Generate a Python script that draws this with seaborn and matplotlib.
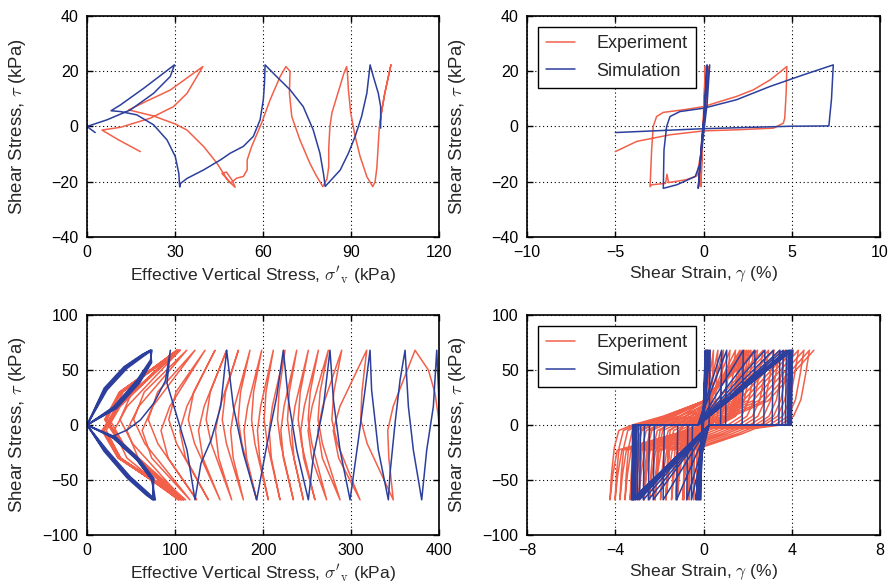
import numpy as np
import pandas as pd
import matplotlib
matplotlib.use("Agg")
import matplotlib.pyplot as plt
import seaborn as sns

# ------------------------------------------------------------------ colours
EXP_COLOR = "#f2604a"
SIM_COLOR = "#2c3f9c"

# ------------------------------------------------------------------ data
# Top-left : effective vertical stress (kPa) vs shear stress (kPa), low CSR test
tl_exp_sv = [99.7, 100.5, 101.5, 103.6, 101.5, 100.2, 99.6, 99.2, 98.8, 98.2, 97.4,
             95.4, 93.1, 91.4, 89.9, 89.1, 88.8, 88.5, 87.5, 85.5, 83.5, 82.8, 82.4,
             82.4, 81.8, 80.4, 78.0, 76.0, 72.6, 69.8, 69.0, 69.2, 67.8, 65.8, 62.4,
             59.5, 56.1, 54.6, 54.6, 53.3, 51.0, 49.0, 46.0, 47.5, 49.5, 50.5, 48.0,
             44.3, 39.8, 34.1, 30.1, 22.7, 14.2, 20.0, 28.4, 34.0, 39.5, 34.1, 29.5,
             21.6, 11.4, 5.1, 11.0, 18.2]
tl_exp_tau = [-0.5, 6, 12, 22.3, 12, 4, -1, -8, -15, -20, -21.8,
              -18.2, -10.9, -3.6, 4.9, 13.3, 19, 21.7, 19, 12, 5, 0, -8,
              -14.6, -19, -21.8, -17.5, -13.4, -4.9, 3.6, 12.1, 20, 21.7, 18, 9.6,
              1.2, -7.3, -12.1, -15.7, -18.1, -18.7, -20.5, -17, -16.5, -19.5, -22, -19.5,
              -13.3, -7.3, -1.3, 0.9, 3.8, 6.0, 9, 13.2, 17.5, 21.7, 12, 7.2,
              3.0, -0.3, -1.3, -5, -9.1]
tl_sim_sv = [100.1, 100.1, 99.3, 97.6, 96.5, 95.4, 93.6, 91.4, 89.1, 86.3, 81.2,
             80.6, 79.4, 77.1, 73.7, 69.2, 64.6, 60.7, 60.5, 60.1, 59.0, 56.7, 53.3,
             48.8, 45.5, 39.8, 34.1, 31.8, 31.6, 31.3, 30.1, 27.3, 22.7, 17.0, 11.4,
             8.2, 11.4, 19.3, 29.8, 28.4, 22.7, 14.8, 6.8, 0.0, 2.8]
tl_sim_tau = [-0.6, 7.2, 12, 18.1, 22.3, 12.1, 3.6, -3.6, -9.7, -15.8, -21.7,
              -17, -9.7, -1.2, 7.2, 13.3, 18.1, 22.3, 15.6, 9.6, 2.4, -3.6, -7.2,
              -9.7, -12.1, -15.7, -18.8, -20.7, -21.9, -17, -10.9, -4.9, 0.6, 4.2, 5.4,
              5.7, 7.8, 13.8, 22.3, 18.1, 12, 6, 2.4, 0, -2.2]

# Top-right : shear strain (%) vs shear stress (kPa), low CSR test
tr_exp_gamma = [0, 0.05, 0.1, 0.0, -0.1, -0.15, -0.05, 0.1, 0.2, 0.05, -0.15, -0.28,
                -0.1, 0.1, 0.3, 0.15, 0.0, -0.1, -0.38, -1.0, -1.98, -2.07, -2.15,
                -2.94, -3.03, -2.94, -2.85, -2.66, -2.28, -0.96, 0.0, 1.88, 2.83,
                3.78, 4.72, 4.68, 4.6, 4.52, 3.96, 1.88, 0.0, -1.89, -3.78, -5.0]
tr_exp_tau = [0, 10, 21.7, 5, -10, -21.8, -5, 10, 21.7, 5, -10, -21.8,
              -5, 10, 21.7, 8, 0, -8, -17.9, -19.3, -20.3, -17.3, -20.6,
              -21.1, -21.8, -8.5, 0, 3.6, 5.1, 6.2, 7.2, 10.9, 13.3,
              16.9, 21.7, 12, 3, 1.2, -0.6, -1.2, -1.6, -3.0, -5.4, -9.1]
tr_sim_gamma = [0, 0.1, 0.2, 0.05, -0.15, -0.3, -0.1, 0.15, 0.35, 0.2, 0.05, -0.1,
                -0.19, -0.47, -1.51, -2.28, -2.24, -2.09, -1.9, -1.34, 0.0, 1.88,
                3.77, 5.66, 7.35, 7.25, 7.1, 5.0, 0.0, -5.0]
tr_sim_tau = [0, 12, 22.3, 5, -10, -22.4, -5, 12, 22.3, 8, 0, -8,
              -13.3, -18.1, -21.1, -22.4, -8.5, 0, 3.6, 5.4, 6.6, 9.7,
              14.5, 18.7, 22.3, 10, 0.2, 0.1, -0.8, -2.2]

# Bottom-left : effective vertical stress vs shear stress, high CSR test
TAU_AMP = 68.0
bl_exp_start_sv = [400.0, 399.2, 395.5, 387.9]
bl_exp_start_tau = [0.0, 7.6, 28.8, 50.0]
# successive stress reversals (peak, trough, peak, ...), sigma'_v in kPa
bl_exp_reversal_sv = [372.7, 348.0, 317.8, 310.2, 289.4, 287.5, 274.2, 272.3, 262.9,
                      259.0, 251.5, 245.8, 238.3, 234.5, 225.0, 219.3, 211.7, 206.0,
                      198.5, 192.8, 185.2, 177.7, 172.0, 164.4, 158.7, 151.1, 145.5,
                      137.9, 134.1, 124.6, 122.7, 117.0, 113.3, 109.5, 105.7, 103.8,
                      101.9, 104.0, 102.0, 106.0, 103.0, 107.0, 104.0, 108.0, 103.5,
                      110.0, 105.0, 112.0, 106.0]
# lowest sigma'_v reached near tau = 0 in each half cycle
bl_exp_min_sv = [341.7, 311.0, 279.8, 278.2, 262.4, 262.5, 251.2, 251.3, 242.9, 240.0,
                 232.5, 227.8, 220.3, 216.5, 207.0, 201.3, 193.7, 187.0, 178.5, 171.8,
                 163.2, 153.7, 146.0, 135.4, 126.7, 115.1, 105.5, 92.9, 84.1, 69.6,
                 62.7, 53.0, 45.3, 37.5, 30.7, 25.8, 21.9, 22.0, 19.0, 22.0, 18.0,
                 21.0, 17.0, 20.0, 18.5, 21.5, 19.5, 22.5]
# half-cycle shape: tau levels and position between reversal/min
bl_half_tau = [17.0, -5.0, -30.0]
bl_unload_frac = 0.8   # at tau = +17 : share of the way from reversal to minimum
bl_reload_frac = 0.2   # at tau = -30 : share of the way from minimum to next reversal

bl_sim_sv = [400.0, 399.5, 397.4, 393.5, 386.0, 380.3, 370.8, 365.2, 361.4, 355.7, 350.0,
             344.3, 342.4, 331.0, 323.4, 321.6, 315.9, 308.3, 298.9, 287.5, 280.0, 276.1,
             268.6, 257.2, 251.5, 238.3, 228.8, 223.1, 215.5, 204.0, 192.8, 177.7, 166.3,
             158.7, 151.9, 141.0, 129.5, 122.7, 113.6, 102.3, 90.9, 94.7, 89.0, 75.8,
             60.6, 45.5, 28.4, 56.8, 73.9, 77.7,
             70, 49.2, 22.7, 0, 30.3, 56.8, 72, 73.9, 65, 45.5, 22.7, 0, 30, 56.8, 73.9, 76.5,
             69, 48, 21.5, 0, 31.5, 58, 72.5, 73, 64, 44, 21.5, 0, 31.5, 58, 75, 75.5,
             68, 47, 20.5, 0, 32.5, 59, 73, 72.3, 63.5, 43, 20.5, 0, 33, 59, 76, 74.8,
             67, 46, 19.5, 0, 33.5, 60, 73.5, 71.8, 63, 42, 19.5, 0]
bl_sim_tau = [0, 30, 68, 16.6, -22.7, -68, -22.7, 16.6, 68, 40.9, 1.5,
              -44, -68, -22.7, 31.8, 68, 31.8, -13.6, -68, -22.7, 22.7, 68,
              16.7, -28.8, -68, -22.7, 22.7, 68, 25.8, -19.7, -68, -25.8, 16.7,
              68, 16.7, -13.6, -34.8, -68, -22.7, 7.6, 37.9, 68, 40, 19.7,
              4.5, -4.5, -10.6, -31.8, -50, -68,
              -62, -47, -22.7, 0, 16.7, 40.9, 59, 68, 63, 51.5, 31.8, 0, -12, -31.8, -50, -68,
              -62.5, -47.5, -23, 0, 16, 40, 58, 68, 63.5, 52, 32.5, 0, -11.5, -31, -49, -68,
              -63, -48, -23.5, 0, 15.5, 39, 57.5, 68, 64, 52.5, 33, 0, -11, -30.5, -48.5, -68,
              -63.5, -48.5, -24, 0, 15, 38.5, 57, 68, 64.3, 53, 33.5, 0]

# Bottom-right : shear strain vs shear stress, high CSR test
# strain at each positive / negative stress reversal, in time order
br_exp_peak_gamma = [0.1, 0.15, 0.2, 0.3, 0.45, 0.65, 0.9, 1.2, 1.45, 1.65, 1.75,
                     1.85, 1.95, 2.05, 2.15, 2.3, 2.45, 2.7, 2.95, 3.2, 3.45, 3.7,
                     3.9, 4.07, 4.3, 4.55, 4.8, 5.0]
br_exp_trough_gamma = [-0.12, -0.2, -0.3, -0.45, -0.65, -0.9, -1.25, -1.7, -2.2,
                       -2.7, -3.1, -3.33, -3.56, -3.79, -4.01, -4.24, -3.2, -2.95,
                       -2.7, -2.45, -2.2, -1.95, -1.7, -1.45, -1.2, -0.95, -0.76]
# branch shape read from the outer loops (tau level, share of the way from start to end)
br_up_tau = [-68, -45, -20, -5, 0, 8, 22, 45, 68]
br_up_frac = [0, 0.01, 0.03, 0.06, 0.15, 0.36, 0.64, 0.82, 1]
br_down_tau = [68, 47, 23, 8, 0, -3, -8, -14, -23, -45, -68]
br_down_frac = [0, 0.03, 0.07, 0.13, 0.24, 0.44, 0.55, 0.71, 0.95, 0.98, 1]

br_sim_stiff_peak = [0.08, 0.12, 0.16, 0.2, 0.25, 0.3]
br_sim_stiff_trough = [-0.15, -0.2, -0.25, -0.3, -0.35]
br_sim_liq_trough = [-0.55, -0.76, -1.22, -1.83, -2.28, -2.5, -2.73, -2.9, -3.0,
                     -3.08, -3.14, -3.19, -3.23, -3.26]
br_sim_liq_peak = [0.82, 1.05, 1.8, 2.33, 2.78, 3.16, 3.46, 3.61, 3.76, 3.85, 3.91,
                   3.96, 4.0, 4.03]
br_sim_flat_end = 0.25   # where the tau = 0 plateau meets the diagonal branch

# ------------------------------------------------------------------ build paths
def bl_exp_path():
    sv = list(bl_exp_start_sv)
    tau = list(bl_exp_start_tau)
    for i, m in enumerate(bl_exp_min_sv):
        s0, s1 = bl_exp_reversal_sv[i], bl_exp_reversal_sv[i + 1]
        sign = 1 if i % 2 == 0 else -1
        sv += [s0, s0 - bl_unload_frac * (s0 - m), m, m + bl_reload_frac * (s1 - m)]
        tau += [sign * TAU_AMP] + [sign * t for t in bl_half_tau]
    last = len(bl_exp_reversal_sv) - 1
    sv.append(bl_exp_reversal_sv[-1])
    tau.append(TAU_AMP if last % 2 == 0 else -TAU_AMP)
    return sv, tau


def br_exp_path():
    g, t = [0.0], [0.0]
    peaks, troughs = br_exp_peak_gamma, br_exp_trough_gamma
    for k, p in enumerate(peaks):
        if k > 0:
            lo = troughs[k - 1]
            g += [lo + f * (p - lo) for f in br_up_frac[1:-1]]
            t += br_up_tau[1:-1]
        g.append(p)
        t.append(TAU_AMP)
        if k < len(troughs):
            lo = troughs[k]
            g += [p - f * (p - lo) for f in br_down_frac[1:-1]]
            t += br_down_tau[1:-1]
            g.append(lo)
            t.append(-TAU_AMP)
    return g, t


def br_sim_path():
    g, t = [0.0], [0.0]
    for k, p in enumerate(br_sim_stiff_peak):
        g.append(p); t.append(TAU_AMP)
        if k < len(br_sim_stiff_trough):
            g.append(br_sim_stiff_trough[k]); t.append(-TAU_AMP)
    prev_peak = br_sim_stiff_peak[-1]
    for lo, hi in zip(br_sim_liq_trough, br_sim_liq_peak):
        g += [prev_peak - 0.05, br_sim_flat_end, lo]
        t += [0.0, 0.0, -TAU_AMP]
        g += [lo + 0.05, -br_sim_flat_end, hi]
        t += [0.0, 0.0, TAU_AMP]
        prev_peak = hi
    g.append(prev_peak - 0.05); t.append(0.0)
    return g, t


def frame(x, y):
    return pd.DataFrame({"x": x, "y": y})

# ------------------------------------------------------------------ style
sns.set_style("ticks")
plt.rcParams["font.family"] = ["Liberation Sans Narrow", "Liberation Sans", "DejaVu Sans"]
plt.rcParams["mathtext.fontset"] = "cm"
plt.rcParams["axes.unicode_minus"] = True

fig = plt.figure(figsize=(8.94, 5.88), dpi=100)
ax_tl = fig.add_axes([0.0973, 0.597, 0.3938, 0.3758])
ax_tr = fig.add_axes([0.5895, 0.597, 0.3949, 0.3758])
ax_bl = fig.add_axes([0.0973, 0.0901, 0.3938, 0.3741])
ax_br = fig.add_axes([0.5895, 0.0901, 0.3949, 0.3741])

LW = 1.1
kw = dict(x="x", y="y", sort=False, estimator=None, lw=LW)

# top-left
sns.lineplot(data=frame(tl_exp_sv, tl_exp_tau), color=EXP_COLOR, ax=ax_tl, **kw)
sns.lineplot(data=frame(tl_sim_sv, tl_sim_tau), color=SIM_COLOR, ax=ax_tl, **kw)
# top-right
sns.lineplot(data=frame(tr_exp_gamma, tr_exp_tau), color=EXP_COLOR, ax=ax_tr,
             label="Experiment", **kw)
sns.lineplot(data=frame(tr_sim_gamma, tr_sim_tau), color=SIM_COLOR, ax=ax_tr,
             label="Simulation", **kw)
# bottom-left
sx, sy = bl_exp_path()
sns.lineplot(data=frame(sx, sy), color=EXP_COLOR, ax=ax_bl, **kw)
sns.lineplot(data=frame(bl_sim_sv, bl_sim_tau), color=SIM_COLOR, ax=ax_bl, **kw)
# bottom-right
gx, gy = br_exp_path()
sns.lineplot(data=frame(gx, gy), color=EXP_COLOR, ax=ax_br, label="Experiment", **kw)
hx, hy = br_sim_path()
sns.lineplot(data=frame(hx, hy), color=SIM_COLOR, ax=ax_br, label="Simulation", **kw)

sv_label = r"Effective Vertical Stress, $\sigma'_{\mathrm{v}}$ (kPa)"
g_label = r"Shear Strain, $\gamma$ (%)"
t_label = r"Shear Stress, $\tau$ (kPa)"

cfg = [
    (ax_tl, (0, 120), [0, 30, 60, 90, 120], (-40, 40), [-40, -20, 0, 20, 40], sv_label),
    (ax_tr, (-10, 10), [-10, -5, 0, 5, 10], (-40, 40), [-40, -20, 0, 20, 40], g_label),
    (ax_bl, (0, 400), [0, 100, 200, 300, 400], (-100, 100), [-100, -50, 0, 50, 100], sv_label),
    (ax_br, (-8, 8), [-8, -4, 0, 4, 8], (-100, 100), [-100, -50, 0, 50, 100], g_label),
]
for ax, xl, xt, yl, yt, xlab in cfg:
    ax.set_xlim(*xl); ax.set_xticks(xt)
    ax.set_ylim(*yl); ax.set_yticks(yt)
    ax.set_xlabel(xlab, fontsize=12.6, labelpad=3)
    ax.set_ylabel(t_label, fontsize=13.4)
    ax.yaxis.set_label_coords(-0.168, 0.5)
    ax.grid(True, linestyle=(0, (1, 2.5)), color="black", lw=0.8)
    ax.tick_params(direction="in", length=4, width=1, top=True, right=True,
                   labelsize=11.5, pad=6, colors="black")
    for sp in ax.spines.values():
        sp.set_linewidth(1.2); sp.set_color("black")

for ax in (ax_tr, ax_br):
    leg = ax.legend(loc="upper left", frameon=True, fancybox=False, edgecolor="black",
                    prop={"family": "Liberation Sans", "size": 13},
                    handlelength=1.6, handletextpad=1.2, borderpad=0.45,
                    labelspacing=0.6, borderaxespad=0.6)
    leg.get_frame().set_linewidth(1.0)
    leg.get_frame().set_alpha(1.0)
for ax in (ax_tl, ax_bl):
    if ax.get_legend() is not None:
        ax.get_legend().remove()

fig.savefig("out.png", dpi=100)
